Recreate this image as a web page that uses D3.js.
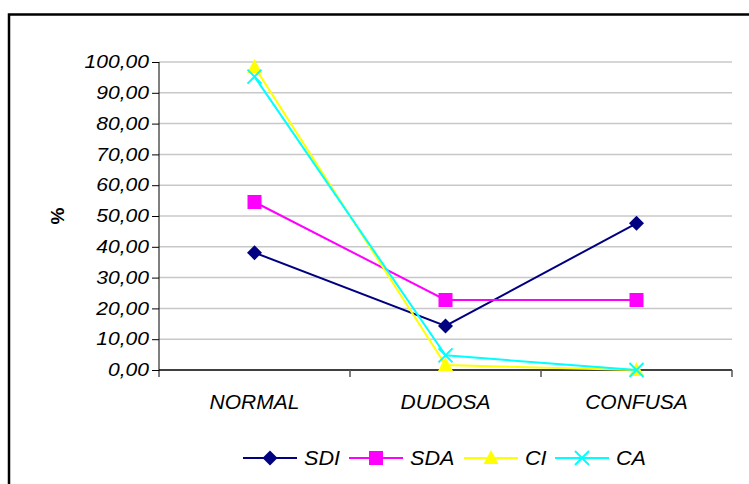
<!DOCTYPE html>
<html><head><meta charset="utf-8">
<script src="https://cdn.jsdelivr.net/npm/d3@7/dist/d3.min.js"></script>
<style>body{margin:0;background:#fff}svg{display:block}text{font-family:"Liberation Sans",Arial,sans-serif}</style>
</head><body>
<svg id="c" width="749" height="484"></svg>
<script>
const categories = ["NORMAL", "DUDOSA", "CONFUSA"];
const seriesNames = ["SDI", "SDA", "CI", "CA"];
const SDI = [38.10, 14.29, 47.62];
const SDA = [54.55, 22.73, 22.73];
const CI  = [98.41, 1.59, 0.00];
const CA  = [95.24, 4.76, 0.00];
const yTicks = [0,10,20,30,40,50,60,70,80,90,100];
const colors = {SDI:"#000080", SDA:"#ff00ff", CI:"#ffff00", CA:"#00ffff"};
const shapes = {SDI:"diamond", SDA:"square", CI:"triangle", CA:"x"};
const data = {SDI, SDA, CI, CA};

const svg = d3.select("#c");
// frame
svg.append("rect").attr("x",9).attr("y",14.5).attr("width",760).attr("height",500)
  .attr("fill","none").attr("stroke","#000").attr("stroke-width",2.5);

const L=159, R=732, T=62, B=370;
const x = d3.scaleBand().domain(categories).range([L,R]);
const y = d3.scaleLinear().domain([0,100]).range([B,T]);

// gridlines
svg.append("g").selectAll("line").data(yTicks.filter(d=>d>0)).join("line")
  .attr("x1",L).attr("x2",R).attr("y1",d=>y(d)).attr("y2",d=>y(d))
  .attr("stroke","#c8c8c8").attr("stroke-width",1.5);

// y axis
const fmt = d=>d3.format(".2f")(d).replace(".",",");
const ya = svg.append("g").attr("transform",`translate(${L},0)`)
  .call(d3.axisLeft(y).tickValues(yTicks).tickFormat(fmt).tickSize(7).tickPadding(3));
ya.select(".domain").attr("d",`M0,${T}V${B+7}`).attr("stroke","#000").attr("stroke-width",1);
ya.selectAll(".tick line").attr("stroke","#000");
ya.selectAll(".tick text").attr("font-size",18).attr("font-style","italic").attr("fill","#000")
  .attr("font-family","'Liberation Sans',Arial,sans-serif")
  .each(function(){ const t=d3.select(this); const xx=+t.attr("x"); t.attr("transform",`translate(${xx},0) scale(1.17,1) translate(${-xx},0)`);});

// x axis
const xa = svg.append("g").attr("transform",`translate(0,${B})`);
xa.append("line").attr("x1",L).attr("x2",R).attr("stroke","#000").attr("stroke-width",1.5);
const bounds = [L, ...categories.map(c=>x(c)+x.bandwidth())];
xa.selectAll(".tk").data(bounds.slice(1)).join("line").attr("class","tk")
  .attr("x1",d=>d).attr("x2",d=>d).attr("y1",0).attr("y2",7).attr("stroke","#555").attr("stroke-width",1.5);
xa.selectAll(".lbl").data(categories).join("text").attr("class","lbl")
  .attr("transform",d=>`translate(${x(d)+x.bandwidth()/2},39) scale(1.05,1)`)
  .attr("text-anchor","middle").attr("font-size",20).attr("font-style","italic").text(d=>d);

// y title
svg.append("text").attr("transform","translate(64,216) rotate(-90)").attr("text-anchor","middle")
  .attr("font-size",19).attr("font-weight","bold").text("%");

function marker(g, shape, color){
  if(shape==="diamond") g.append("path").attr("d","M0,-7.5L7.5,0L0,7.5L-7.5,0Z").attr("fill",color);
  else if(shape==="square") g.append("rect").attr("x",-7).attr("y",-7).attr("width",14).attr("height",14).attr("fill",color);
  else if(shape==="triangle") g.append("path").attr("d","M0,-8L7.5,6L-7.5,6Z").attr("fill",color);
  else g.append("path").attr("d","M-7,-7L7,7M-7,7L7,-7").attr("stroke",color).attr("stroke-width",2).attr("fill","none");
}

const line = d3.line().x((d,i)=>x(categories[i])+x.bandwidth()/2).y(d=>y(d));
seriesNames.forEach(s=>{
  svg.append("path").datum(data[s]).attr("d",line).attr("fill","none")
    .attr("stroke",colors[s]).attr("stroke-width",2);
  data[s].forEach((v,i)=>{
    const g = svg.append("g").attr("transform",`translate(${x(categories[i])+x.bandwidth()/2},${y(v)})`);
    marker(g, shapes[s], colors[s]);
  });
});

// legend
const legX = [243, 349, 464, 555];
const legY = 458;
seriesNames.forEach((s,i)=>{
  const g = svg.append("g").attr("transform",`translate(${legX[i]},${legY})`);
  g.append("line").attr("x1",0).attr("x2",54).attr("stroke",colors[s]).attr("stroke-width",2);
  const m = g.append("g").attr("transform","translate(27,0)");
  marker(m, shapes[s], colors[s]);
  g.append("text").attr("transform","translate(61,7) scale(1.08,1)").attr("font-size",20).attr("font-style","italic").text(s);
});
</script>
</body></html>
